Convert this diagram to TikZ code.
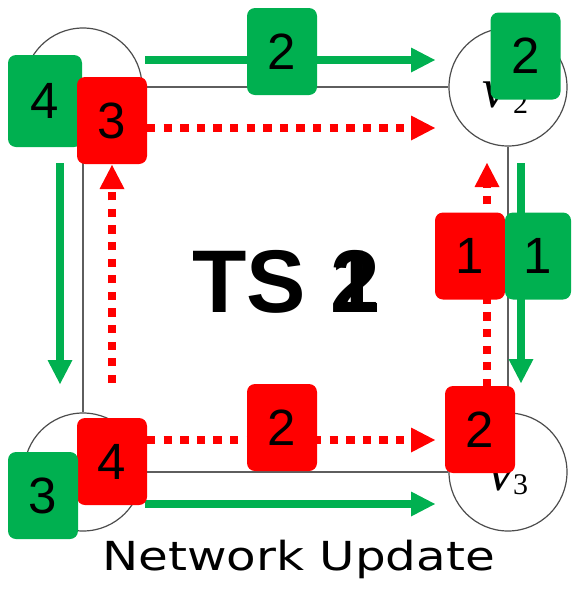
\documentclass[tikz,border=0pt]{standalone}
\usepackage{fontspec}
\setmainfont{Liberation Sans}
\newfontfamily\serifface{Liberation Serif}
\newfontfamily\roundsans{DejaVu Sans}
\usetikzlibrary{arrows.meta}
\definecolor{flowgreen}{HTML}{00B050}
\definecolor{flowred}{HTML}{FF0000}
\definecolor{linkgray}{HTML}{5E5E5E}
\begin{document}
\begin{tikzpicture}[x=1pt,y=-1pt,
  switch/.style={circle,draw=black!70,line width=1.2pt,fill=white,minimum size=118pt,inner sep=0pt},
  link/.style={draw=linkgray,line width=2pt},
  tag/.style={rounded corners=8pt,minimum width=70pt,minimum height=87pt,inner sep=0pt,
    font=\fontsize{51}{51}\selectfont,text=black},
  gtag/.style={tag,fill=flowgreen},
  rtag/.style={tag,fill=flowred},
  newflow/.style={draw=flowgreen,line width=8pt,
    -{Triangle[length=24pt,width=25pt,line width=0pt]}},
  oldflow/.style={draw=flowred,line width=8pt,dash pattern=on 8.3pt off 8.3pt,
    -{Triangle[length=24pt,width=25pt,line width=0pt]}},
  vname/.style={anchor=base west,inner sep=0pt,font=\serifface\itshape\fontsize{56}{56}\selectfont},
  vidx/.style={anchor=base west,inner sep=0pt,font=\serifface\fontsize{30}{30}\selectfont},
]
\useasboundingbox (0,0) rectangle (571,592);

% switches and links
\node[switch] (v1) at (83,87) {};
\node[switch] (v2) at (508,87) {};
\node[switch] (v3) at (508,472) {};
\node[switch] (v4) at (83,472) {};
\draw[link] (v1) -- (v2);
\draw[link] (v2) -- (v3);
\draw[link] (v3) -- (v4);
\draw[link] (v4) -- (v1);

\node[vname] (v2n) at (482,107) {v};
\node[vidx] (v2i) at (513,113) {2};
\node[vname] (v3n) at (488,490) {v};
\node[vidx] (v3i) at (513,494) {3};

% flow end points
\coordinate (gTs) at (145,60);  \coordinate (gTe) at (435,60);
\coordinate (rTs) at (147,128); \coordinate (rTe) at (435,128);
\coordinate (gRs) at (521,163); \coordinate (gRe) at (521,383);
\coordinate (rRs) at (487,387); \coordinate (rRe) at (487,163);
\coordinate (gLs) at (60,163);  \coordinate (gLe) at (60,384);
\coordinate (rLs) at (112,383); \coordinate (rLe) at (112,165);
\coordinate (rBs) at (147,440); \coordinate (rBe) at (435,440);
\coordinate (gBs) at (145,504); \coordinate (gBe) at (435,504);

% new (green) and old (red) paths
\draw[newflow] (gTs) -- (gTe);
\draw[oldflow] (rTs) -- (rTe);
\draw[newflow] (gRs) -- (gRe);
\draw[oldflow] (rRs) -- (rRe);
\draw[newflow] (gLs) -- (gLe);
\draw[oldflow] (rLs) -- (rLe);
\draw[oldflow] (rBs) -- (rBe);
\draw[newflow] (gBs) -- (gBe);

% round tags
\node[gtag,minimum width=74pt,minimum height=92pt] (g4) at (45,101) {4};
\node[rtag] (r3) at (112,120.5) {3};
\node[gtag] (g2a) at (282,51.5) {2};
\node[gtag] (g2b) at (525.5,56) {2};
\node[rtag] (r1) at (470,256) {1};
\node[gtag,minimum width=66pt] (g1) at (538,256) {1};
\node[rtag] (r2a) at (282,427.5) {2};
\node[rtag] (r2b) at (480,429.5) {2};
\node[rtag] (r4) at (112,461.5) {4};
\node[gtag] (g3) at (43,495.5) {3};

% time slot and caption
\node[anchor=base west,inner sep=0pt,font=\bfseries\fontsize{89}{89}\selectfont] (slot) at (192,312) {TS \rlap{1}2};
\node[anchor=base west,inner sep=0pt,font=\roundsans\fontsize{40}{40}\selectfont] (caption) at (102,570) {\scalebox{1.21}[1]{Network Update}};
\end{tikzpicture}
\end{document}
